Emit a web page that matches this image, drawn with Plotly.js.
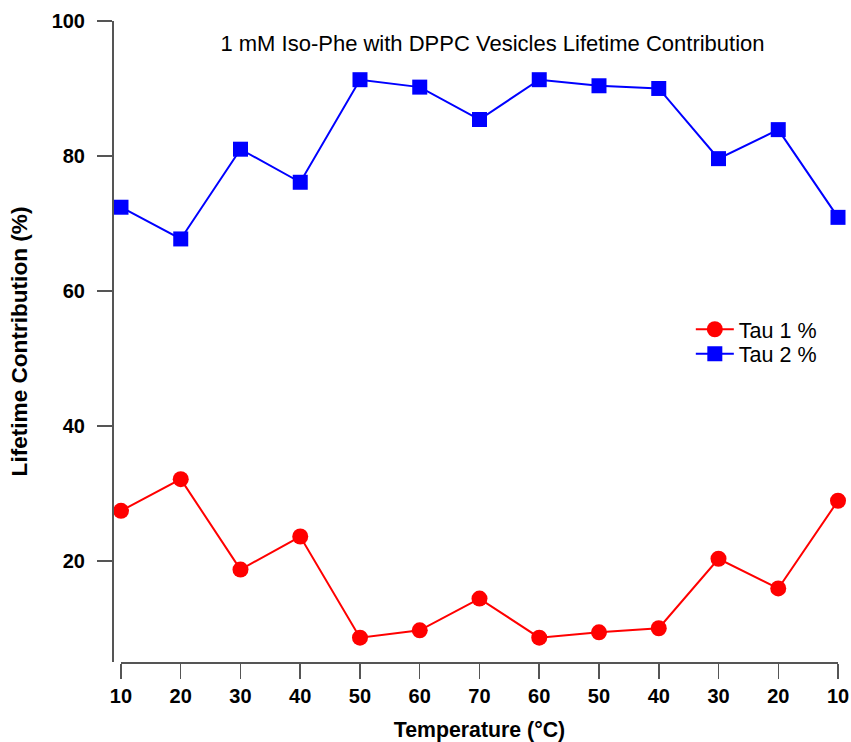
<!DOCTYPE html>
<html>
<head>
<meta charset="utf-8">
<script src="https://cdn.plot.ly/plotly-3.0.1.min.js"></script>
<style>
  html, body { margin: 0; padding: 0; background: #fff; }
  #chart { width: 851px; height: 742px; }
</style>
</head>
<body>
<div id="chart"></div>
<script>
// Heating 10→70 °C then cooling back to 10 °C; positions along the run
const stepIndex = [0, 1, 2, 3, 4, 5, 6, 7, 8, 9, 10, 11, 12];
const temperatureLabels = ['10', '20', '30', '40', '50', '60', '70', '60', '50', '40', '30', '20', '10'];

// Lifetime contributions (%)
const tau1Percent = [27.4, 32.1, 18.7, 23.6, 8.6, 9.7, 14.4, 8.6, 9.4, 10.0, 20.3, 15.9, 28.9];
const tau2Percent = [72.4, 67.7, 81.0, 76.1, 91.3, 90.2, 85.4, 91.3, 90.4, 90.0, 79.6, 83.9, 70.9];

const yTicks = [20, 40, 60, 80, 100];

const W = 851, H = 742;
const marginL = 111.7, marginR = 12.7, marginT = 20.7, marginB = 80.3;
const plotW = W - marginL - marginR;
const plotH = H - marginT - marginB;

const axisColor = '#555555';
const fontFamily = '"Liberation Sans", Arial, sans-serif';

const traces = [
  {
    x: stepIndex, y: tau1Percent, name: 'Tau 1 %', legend: 'legend',
    type: 'scatter', mode: 'lines+markers', cliponaxis: false,
    line: { color: '#ff0000', width: 2 },
    marker: { symbol: 'circle', size: 16, color: '#ff0000' }
  },
  {
    x: stepIndex, y: tau2Percent, name: 'Tau 2 %', legend: 'legend2',
    type: 'scatter', mode: 'lines+markers', cliponaxis: false,
    line: { color: '#0000ff', width: 2 },
    marker: { symbol: 'square', size: 15, color: '#0000ff' }
  }
];

// one legend box per series so the two rows sit close together
function legendAt(rowCenterY) {
  return {
    x: (691 - marginL) / plotW, xanchor: 'left',
    y: 1 - (rowCenterY - marginT) / plotH, yanchor: 'middle',
    bgcolor: 'rgba(0,0,0,0)', borderwidth: 0,
    font: { family: fontFamily, size: 21.5, color: '#000000' },
    itemwidth: 38
  };
}

const layout = {
  width: W, height: H,
  margin: { l: marginL, r: marginR, t: marginT, b: marginB, pad: 0 },
  paper_bgcolor: '#ffffff', plot_bgcolor: '#ffffff',
  font: { family: fontFamily, color: '#000000' },
  showlegend: true,
  title: {
    text: '1 mM Iso-Phe with DPPC Vesicles Lifetime Contribution',
    font: { family: fontFamily, size: 22, color: '#000000' },
    xref: 'container', yref: 'container',
    x: 492.5 / W, xanchor: 'center',
    y: 1 - 43 / H, yanchor: 'middle'
  },
  xaxis: {
    range: [0, 12],
    domain: [9 / plotW, 1],
    tickmode: 'array', tickvals: stepIndex, ticktext: temperatureLabels,
    showline: true, linecolor: axisColor, linewidth: 1.5,
    ticks: 'outside', ticklen: 15, tickwidth: 1.5, tickcolor: axisColor,
    showgrid: false, zeroline: false, automargin: false,
    tickfont: { family: fontFamily, size: 20, weight: 'bold', color: '#000000' },
    title: {
      text: 'Temperature (°C)', standoff: 18,
      font: { family: fontFamily, size: 21.3, weight: 'bold', color: '#000000' }
    }
  },
  yaxis: {
    range: [5, 100],
    anchor: 'free', position: 0,
    tickmode: 'array', tickvals: yTicks,
    showline: true, linecolor: axisColor, linewidth: 1.5,
    ticks: 'outside', ticklen: 15, tickwidth: 1.5, tickcolor: axisColor,
    ticklabelstandoff: 8,
    showgrid: false, zeroline: false, automargin: false,
    tickfont: { family: fontFamily, size: 20, weight: 'bold', color: '#000000' },
    title: {
      text: 'Lifetime Contribution (%)', standoff: 16,
      font: { family: fontFamily, size: 22.6, weight: 'bold', color: '#000000' }
    }
  },
  legend: legendAt(329),
  legend2: legendAt(353.5)
};

Plotly.newPlot('chart', traces, layout, { displayModeBar: false, staticPlot: true });
</script>
</body>
</html>
